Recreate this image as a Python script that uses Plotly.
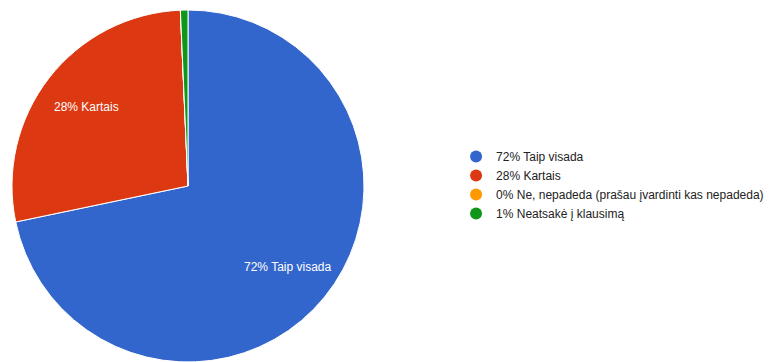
import math
import plotly.graph_objects as go

labels = ["Taip visada", "Kartais", "Ne, nepadeda (prašau įvardinti kas nepadeda)", "Neatsakė į klausimą"]
values = [104, 40, 0, 1]
legend_pct = ["72%", "28%", "0%", "1%"]
colors = ["#3366cc", "#dc3912", "#ff9900", "#109618"]
slice_texts = ["72% Taip visada", "28% Kartais", "", ""]

FONT = "Arial, Liberation Sans, sans-serif"
W, H = 773, 362
MT = 10
DOM_X = [11 / W, 365 / W]
DOM_Y = [0, 1]

fig = go.Figure()
fig.add_trace(go.Pie(
    labels=labels, values=values, sort=False, direction="clockwise", rotation=0,
    marker=dict(colors=colors, line=dict(color="white", width=1)),
    textinfo="none",
    showlegend=False, hoverinfo="label+percent",
    domain=dict(x=DOM_X, y=DOM_Y),
))
for p, lab, c in zip(legend_pct, labels, colors):
    fig.add_trace(go.Scatter(
        x=[None], y=[None], mode="markers", name=f"{p} {lab}",
        marker=dict(color=c, size=12, symbol="circle"),
    ))

# slice labels placed along each slice's bisector (derived from the values)
plot_h = H - MT
cx = (DOM_X[0] + DOM_X[1]) / 2
cy = (DOM_Y[0] + DOM_Y[1]) / 2
r_px = min((DOM_X[1] - DOM_X[0]) * W, (DOM_Y[1] - DOM_Y[0]) * plot_h) / 2
total = sum(values)
cum = 0
annotations = []
for v, t in zip(values, slice_texts):
    mid = (cum + v / 2) / total * 2 * math.pi
    cum += v
    if not t:
        continue
    k = 0.73
    ax = cx + r_px * k * math.sin(mid) / W
    ay = cy + r_px * k * math.cos(mid) / plot_h
    annotations.append(dict(x=ax, y=ay, xref="paper", yref="paper", text=t,
                            showarrow=False, xanchor="center", yanchor="middle",
                            font=dict(color="white", size=12, family=FONT)))

fig.update_layout(
    width=W, height=H,
    margin=dict(l=0, r=0, t=MT, b=0, autoexpand=False),
    paper_bgcolor="white", plot_bgcolor="white",
    font=dict(family=FONT, size=12, color="#222222"),
    xaxis=dict(visible=False), yaxis=dict(visible=False),
    legend=dict(x=0.59, y=0.503, xanchor="left", yanchor="middle",
                font=dict(size=12, color="#222222", family=FONT),
                itemwidth=30, bgcolor="rgba(0,0,0,0)"),
    annotations=annotations,
)
fig.write_html("out.html", config={"displayModeBar": False},
               post_script="document.body.style.margin='0';")
